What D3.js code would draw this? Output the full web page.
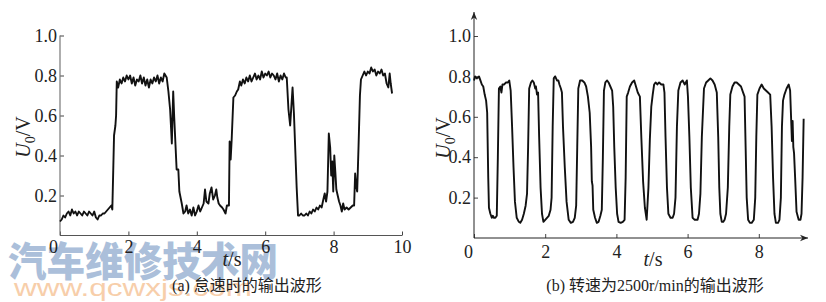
<!DOCTYPE html>
<html>
<head>
<meta charset="utf-8">
<script src="https://cdn.jsdelivr.net/npm/d3@7"></script>
<style>
  body { margin: 0; background: #fff; }
  svg { display: block; }
</style>
</head>
<body>
<div id="chart"></div>
<script>
// ---- data ----
// (a) idle waveform
const tA = [0.00,0.05,0.10,0.15,0.20,0.25,0.30,0.35,0.40,0.45,0.50,0.55,0.60,0.65,0.70,0.75,0.80,0.85,0.90,0.95,
  1.00,1.05,1.10,1.15,1.20,1.25,1.30,1.35,1.40,1.45,1.50,1.53,1.56,1.58,1.62,1.64,1.66,1.70,1.75,1.80,
  1.85,1.90,1.95,2.00,2.05,2.10,2.15,2.20,2.25,2.30,2.35,2.40,2.45,2.50,2.55,2.60,2.65,2.70,2.75,2.80,
  2.85,2.90,2.95,3.00,3.05,3.12,3.17,3.22,3.27,3.31,3.34,3.41,3.46,3.49,3.56,3.61,3.66,3.70,3.75,3.80,
  3.85,3.90,3.95,4.00,4.05,4.10,4.15,4.20,4.24,4.28,4.34,4.38,4.43,4.48,4.53,4.57,4.60,4.64,4.68,4.74,
  4.78,4.84,4.88,4.94,4.96,4.99,5.02,5.07,5.12,5.17,5.21,5.26,5.30,5.35,5.40,5.45,5.50,5.55,5.60,5.65,
  5.70,5.75,5.80,5.85,5.90,5.95,6.00,6.05,6.10,6.15,6.20,6.25,6.30,6.35,6.40,6.45,6.50,6.55,6.60,6.63,
  6.68,6.73,6.80,6.84,6.92,6.96,7.00,7.05,7.10,7.15,7.20,7.25,7.30,7.35,7.40,7.45,7.50,7.55,7.60,7.65,
  7.70,7.74,7.78,7.82,7.86,7.90,7.93,7.96,7.99,8.02,8.05,8.08,8.12,8.16,8.20,8.24,8.28,8.32,8.38,8.44,
  8.50,8.56,8.60,8.63,8.66,8.69,8.73,8.77,8.80,8.85,8.90,8.95,9.00,9.05,9.10,9.15,9.20,9.25,9.30,9.35,
  9.40,9.45,9.50,9.55,9.60,9.64,9.67,9.71];
const uA = [0.07,0.08,0.10,0.09,0.11,0.12,0.10,0.13,0.11,0.12,0.10,0.12,0.11,0.10,0.12,0.11,0.10,0.12,0.11,0.10,
  0.12,0.09,0.08,0.10,0.10,0.11,0.11,0.12,0.13,0.14,0.15,0.13,0.35,0.50,0.55,0.60,0.77,0.74,0.78,0.76,
  0.79,0.77,0.80,0.78,0.80,0.76,0.79,0.75,0.78,0.77,0.80,0.76,0.79,0.75,0.78,0.74,0.78,0.76,0.79,0.77,
  0.80,0.76,0.79,0.77,0.81,0.79,0.72,0.63,0.46,0.72,0.59,0.33,0.33,0.22,0.16,0.11,0.12,0.15,0.11,0.13,
  0.10,0.14,0.10,0.12,0.15,0.12,0.14,0.16,0.23,0.17,0.16,0.21,0.24,0.18,0.20,0.23,0.19,0.16,0.15,0.14,
  0.13,0.11,0.15,0.15,0.47,0.38,0.48,0.69,0.70,0.72,0.73,0.77,0.75,0.78,0.76,0.79,0.77,0.80,0.77,0.79,
  0.81,0.78,0.80,0.78,0.82,0.79,0.81,0.80,0.82,0.79,0.81,0.80,0.78,0.81,0.77,0.80,0.78,0.81,0.79,0.79,
  0.63,0.55,0.74,0.61,0.24,0.10,0.10,0.11,0.10,0.10,0.11,0.10,0.12,0.11,0.13,0.12,0.14,0.13,0.15,0.14,
  0.18,0.21,0.17,0.22,0.51,0.44,0.30,0.37,0.22,0.40,0.32,0.23,0.20,0.17,0.15,0.12,0.16,0.13,0.14,0.13,
  0.14,0.15,0.15,0.31,0.25,0.22,0.45,0.70,0.78,0.80,0.82,0.80,0.82,0.81,0.84,0.82,0.83,0.80,0.82,0.81,
  0.83,0.80,0.81,0.76,0.74,0.81,0.76,0.71];

// (b) 2500 r/min waveform
const tB = [0.00,0.03,0.08,0.14,0.18,0.22,0.26,0.30,0.34,0.37,0.40,0.42,0.46,0.50,0.53,0.56,0.60,0.64,0.67,0.70,
  0.74,0.77,0.80,0.85,0.90,0.95,0.99,1.03,1.07,1.11,1.15,1.20,1.26,1.30,1.35,1.40,1.45,1.49,1.52,1.55,
  1.60,1.64,1.68,1.72,1.74,1.77,1.80,1.83,1.87,1.91,1.95,2.00,2.05,2.10,2.15,2.18,2.21,2.24,2.28,2.33,
  2.37,2.40,2.44,2.47,2.50,2.55,2.60,2.66,2.72,2.78,2.83,2.87,2.90,2.93,2.98,3.04,3.10,3.15,3.20,3.25,
  3.29,3.31,3.33,3.35,3.40,3.45,3.50,3.55,3.59,3.62,3.65,3.69,3.74,3.78,3.83,3.88,3.91,3.94,3.98,4.02,
  4.06,4.12,4.18,4.23,4.26,4.29,4.33,4.38,4.44,4.50,4.55,4.60,4.66,4.70,4.75,4.80,4.85,4.90,4.94,4.98,
  5.02,5.06,5.10,5.15,5.20,5.26,5.32,5.35,5.38,5.42,5.46,5.52,5.58,5.62,5.66,5.70,5.74,5.80,5.86,5.92,
  5.98,6.01,6.05,6.09,6.14,6.20,6.28,6.32,6.36,6.40,6.46,6.52,6.58,6.64,6.70,6.76,6.82,6.86,6.89,6.92,
  6.96,7.00,7.04,7.08,7.13,7.17,7.20,7.26,7.32,7.38,7.44,7.50,7.56,7.60,7.63,7.66,7.70,7.75,7.80,7.86,
  7.90,7.93,7.96,8.02,8.08,8.14,8.20,8.26,8.32,8.36,8.40,8.44,8.48,8.54,8.58,8.62,8.65,8.68,8.72,8.78,
  8.84,8.88,8.91,8.93,8.95,8.97,8.99,9.02,9.06,9.12,9.17,9.20,9.23,9.26];
const uB = [0.78,0.80,0.79,0.80,0.78,0.76,0.75,0.71,0.68,0.62,0.30,0.15,0.12,0.10,0.11,0.10,0.10,0.11,0.40,0.74,
  0.75,0.72,0.76,0.76,0.77,0.77,0.78,0.73,0.55,0.35,0.18,0.10,0.08,0.075,0.09,0.12,0.16,0.22,0.45,0.74,
  0.77,0.78,0.77,0.74,0.75,0.71,0.72,0.50,0.25,0.12,0.08,0.09,0.10,0.11,0.14,0.20,0.55,0.79,0.80,0.78,
  0.78,0.76,0.74,0.72,0.55,0.35,0.18,0.09,0.075,0.08,0.10,0.16,0.45,0.74,0.78,0.78,0.77,0.75,0.70,0.62,
  0.45,0.28,0.26,0.14,0.10,0.075,0.08,0.11,0.14,0.40,0.73,0.77,0.78,0.77,0.75,0.73,0.65,0.45,0.25,0.12,
  0.08,0.075,0.08,0.09,0.30,0.70,0.72,0.75,0.77,0.78,0.75,0.72,0.70,0.50,0.28,0.15,0.09,0.25,0.49,0.65,
  0.71,0.76,0.77,0.76,0.77,0.76,0.76,0.72,0.50,0.25,0.12,0.10,0.10,0.12,0.20,0.55,0.73,0.77,0.78,0.76,
  0.78,0.70,0.50,0.25,0.10,0.09,0.09,0.12,0.22,0.50,0.74,0.77,0.78,0.79,0.78,0.76,0.72,0.50,0.25,0.12,
  0.08,0.08,0.09,0.12,0.25,0.55,0.71,0.75,0.77,0.77,0.76,0.75,0.72,0.70,0.45,0.20,0.09,0.075,0.075,0.09,
  0.20,0.50,0.71,0.74,0.76,0.74,0.73,0.72,0.71,0.55,0.30,0.12,0.075,0.075,0.09,0.20,0.55,0.68,0.71,0.74,
  0.76,0.73,0.58,0.48,0.58,0.45,0.42,0.30,0.13,0.09,0.09,0.12,0.30,0.59];

const yTicks = [0.2, 0.4, 0.6, 0.8, 1.0];
const xTicksA = [0, 2, 4, 6, 8, 10];
const xTicksB = [0, 2, 4, 6, 8];
const captionA = "(a) 怠速时的输出波形";
const captionB = "(b) 转速为2500r/min的输出波形";

const W = 826, H = 302;
const serif = "'Liberation Serif', 'DejaVu Serif', serif";
const cjk = "'Liberation Serif', 'Noto Sans CJK SC', serif";
const axisColor = "#444";

const svg = d3.select("#chart").append("svg")
  .attr("width", W)
  .attr("height", H);

// watermark (behind everything)
svg.append("text")
  .attr("x", 8).attr("y", 276)
  .attr("textLength", 270).attr("lengthAdjust", "spacingAndGlyphs")
  .style("font-family", "'Noto Sans CJK SC', sans-serif")
  .style("font-weight", 900)
  .style("font-size", "40px")
  .style("fill", "#abbfda")
  .text("汽车维修技术网");
svg.append("text")
  .attr("x", 14).attr("y", 296)
  .attr("textLength", 238).attr("lengthAdjust", "spacingAndGlyphs")
  .style("font-family", "'Liberation Sans', sans-serif")
  .style("font-size", "24px")
  .style("fill", "#f7ceaa")
  .text("www.qcwxjs.com");

// arrow head marker for panel (b)
svg.append("defs").append("marker")
  .attr("id", "arrow")
  .attr("viewBox", "0 0 10 10")
  .attr("refX", 10).attr("refY", 5)
  .attr("markerWidth", 8).attr("markerHeight", 8)
  .attr("markerUnits", "userSpaceOnUse")
  .attr("orient", "auto")
  .append("path")
  .attr("d", "M0,1 L10,5 L0,9 L3,5 Z")
  .attr("fill", "#222");

function panel(o) {
  const x = d3.scaleLinear().domain(o.xDomain).range(o.xRange);
  const y = d3.scaleLinear().domain([0, 1]).range(o.yRange);
  const g = svg.append("g");

  // y axis, ticks pointing inward
  const gy = g.append("g")
    .attr("transform", `translate(${o.xRange[0]},0)`)
    .call(d3.axisLeft(y).tickValues(yTicks).tickFormat(d3.format(".1f"))
      .tickSize(-4).tickPadding(3).tickSizeOuter(0));
  // x axis
  const gx = g.append("g")
    .attr("transform", `translate(0,${o.yRange[0]})`)
    .call(d3.axisBottom(x).tickValues(o.xTicks).tickFormat(d3.format("d"))
      .tickSize(-4).tickPadding(o.xPad).tickSizeOuter(0));

  [gy, gx].forEach(a => {
    a.select(".domain").remove();
    a.selectAll(".tick line").attr("stroke", axisColor);
    a.selectAll("text")
      .style("font-family", serif)
      .style("font-size", "18px")
      .attr("fill", "#222");
  });
  gx.selectAll(".tick text").filter(d => d === 0).attr("dx", o.zeroShift);

  // axis lines
  if (o.arrows) {
    g.append("line")
      .attr("x1", o.xRange[0]).attr("y1", o.yRange[0])
      .attr("x2", o.xRange[0]).attr("y2", o.yTop)
      .attr("stroke", "#222").attr("stroke-width", 1)
      .attr("marker-end", "url(#arrow)");
    g.append("line")
      .attr("x1", o.xRange[0]).attr("y1", o.yRange[0])
      .attr("x2", o.xEnd).attr("y2", o.yRange[0])
      .attr("stroke", "#222").attr("stroke-width", 1)
      .attr("marker-end", "url(#arrow)");
  } else {
    g.append("line")
      .attr("x1", o.xRange[0]).attr("y1", o.yRange[0])
      .attr("x2", o.xRange[0]).attr("y2", y(1))
      .attr("stroke", "#777").attr("stroke-width", 1.2);
    g.append("line")
      .attr("x1", o.xRange[0]).attr("y1", o.yRange[0])
      .attr("x2", x(10)).attr("y2", o.yRange[0])
      .attr("stroke", "#555").attr("stroke-width", 1.2);
  }

  // waveform
  const pts = o.t.map((t, i) => [t, o.u[i]]);
  g.append("path")
    .datum(pts)
    .attr("fill", "none")
    .attr("stroke", "#111")
    .attr("stroke-width", 1.9)
    .attr("stroke-linejoin", "round")
    .attr("d", d3.line().x(d => x(d[0])).y(d => y(d[1])));

  // y label U0/V
  const yl = g.append("text")
    .attr("transform", `translate(${o.yLabX},${o.yLabY}) rotate(-90)`)
    .attr("text-anchor", "middle")
    .style("font-family", serif)
    .style("font-size", "20px")
    .attr("fill", "#222");
  yl.append("tspan").style("font-style", "italic").text("U");
  yl.append("tspan").attr("dy", 5).style("font-size", "14px").text("0");
  yl.append("tspan").attr("dy", -5).text("/V");

  // x label t/s
  const xl = g.append("text")
    .attr("x", o.tLabX).attr("y", 266)
    .attr("text-anchor", "middle")
    .style("font-family", serif)
    .style("font-size", "20px")
    .attr("fill", "#222");
  xl.append("tspan").style("font-style", "italic").text("t");
  xl.append("tspan").text("/s");

  // caption
  g.append("text")
    .attr("x", o.capX).attr("y", 291)
    .attr("text-anchor", "middle")
    .style("font-family", cjk)
    .style("font-size", "16px")
    .attr("fill", "#222")
    .text(o.caption);
}

panel({
  t: tA, u: uA,
  xDomain: [0, 10], xRange: [60, 402], yRange: [235.5, 35.5],
  xTicks: xTicksA, xPad: 5, zeroShift: -7,
  arrows: false,
  yLabX: 30, yLabY: 137, tLabX: 232, capX: 247,
  caption: captionA
});

panel({
  t: tB, u: uB,
  xDomain: [0, 9], xRange: [474, 474 + 35.6 * 9], yRange: [238, 36],
  xTicks: xTicksB, xPad: 7, zeroShift: -6,
  arrows: true, yTop: 12, xEnd: 808,
  yLabX: 450, yLabY: 138, tLabX: 653, capX: 655,
  caption: captionB
});
</script>
</body>
</html>
